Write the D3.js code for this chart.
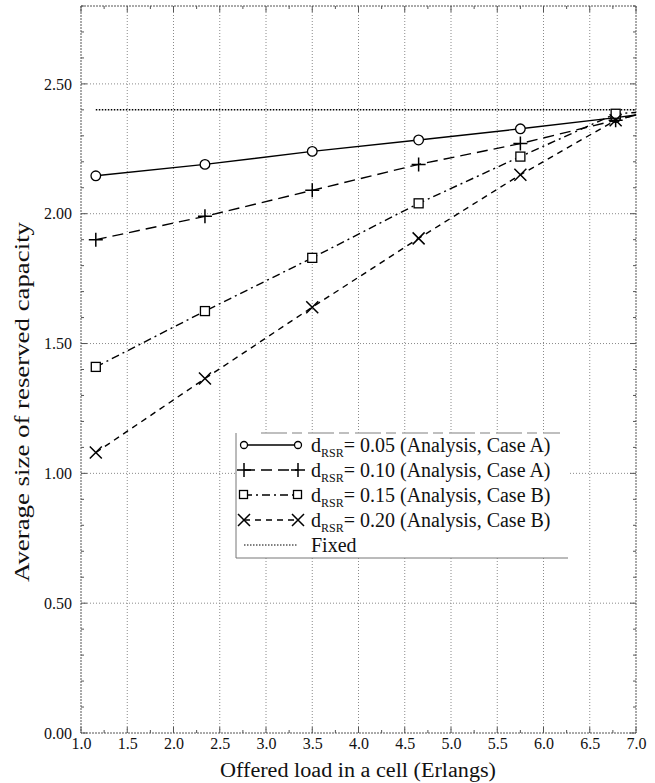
<!DOCTYPE html>
<html>
<head>
<meta charset="utf-8">
<script src="https://cdn.jsdelivr.net/npm/d3@7"></script>
<style>
  body { margin: 0; background: #fff; }
  svg text { font-family: "Liberation Serif", "Times New Roman", serif; fill: #111; }
</style>
</head>
<body>
<div id="chart"></div>
<script>
// offered load (Erlangs) at each computed point; the last one sits on the right border
var loads = [1.16, 2.34, 3.5, 4.65, 5.75, 6.78, 7.0];
var rsr005 = [2.146, 2.19, 2.24, 2.284, 2.327, 2.37, 2.38];
var rsr010 = [1.90, 1.99, 2.09, 2.19, 2.27, 2.36, 2.38];
var rsr015 = [1.41, 1.625, 1.83, 2.04, 2.22, 2.385, 2.39];
var rsr020 = [1.08, 1.365, 1.64, 1.905, 2.15, 2.36, 2.38];
var fixedLoads = [1.16, 7.0];
var fixedValue = [2.40, 2.40];

var xTicks = [1.0, 1.5, 2.0, 2.5, 3.0, 3.5, 4.0, 4.5, 5.0, 5.5, 6.0, 6.5, 7.0];
var yTicks = [0, 0.5, 1.0, 1.5, 2.0, 2.5];
var seriesNames = ["0.05 (Analysis, Case A)", "0.10 (Analysis, Case A)",
                   "0.15 (Analysis, Case B)", "0.20 (Analysis, Case B)"];

(function () {
var width = 655, height = 783;
var pLeft = 81, pRight = 636, pTop = 6, pBottom = 733;

var svg = d3.select("#chart").append("svg")
    .attr("width", width).attr("height", height);

var x = d3.scaleLinear().domain([1, 7]).range([pLeft, pRight]);
var y = d3.scaleLinear().domain([0, 2.8]).range([pBottom, pTop]);

svg.append("clipPath").attr("id", "plot")
  .append("rect").attr("x", pLeft).attr("y", pTop)
  .attr("width", pRight - pLeft).attr("height", pBottom - pTop);

// grid
var grid = svg.append("g").attr("stroke", "#8a8a8a").attr("stroke-width", 1)
    .attr("stroke-dasharray", "1,2");
grid.selectAll(".gx").data(xTicks.slice(1, -1)).enter().append("line")
    .attr("x1", function (d) { return x(d); }).attr("x2", function (d) { return x(d); })
    .attr("y1", pTop).attr("y2", pBottom);
grid.selectAll(".gy").data(yTicks.slice(1)).enter().append("line")
    .attr("x1", pLeft).attr("x2", pRight)
    .attr("y1", function (d) { return y(d); }).attr("y2", function (d) { return y(d); });

// frame
svg.append("rect").attr("x", pLeft).attr("y", pTop)
    .attr("width", pRight - pLeft).attr("height", pBottom - pTop)
    .attr("fill", "none").attr("stroke", "#555").attr("stroke-dasharray", "2,1");

// axes labels (ticks drawn separately, pointing inward on all four sides)
var minorX = d3.range(1, 7.001, 0.25);
var minorY = d3.range(0, 2.801, 0.1);
var bottomAxis = d3.axisBottom(x).tickValues(xTicks).tickSize(0).tickPadding(5)
    .tickFormat(d3.format(".1f"));
var leftAxis = d3.axisLeft(y).tickValues(yTicks).tickSize(0).tickPadding(9)
    .tickFormat(d3.format(".2f"));

var gx = svg.append("g").attr("transform", "translate(0," + pBottom + ")").call(bottomAxis);
var gy = svg.append("g").attr("transform", "translate(" + pLeft + ",0)").call(leftAxis);
[gx, gy].forEach(function (g) {
  g.select(".domain").remove();
  g.selectAll("text").style("font-size", "16px")
    .style("font-family", "'Liberation Serif', serif").attr("fill", "#111");
});

var ticks = svg.append("g").attr("stroke", "#555").attr("stroke-width", 1);
ticks.selectAll(".tb").data(minorX).enter().append("line")
    .attr("x1", function (d) { return x(d); }).attr("x2", function (d) { return x(d); })
    .attr("y1", pBottom).attr("y2", function (d, i) { return pBottom - (i % 2 ? 3 : 6); });
ticks.selectAll(".tt").data(minorX).enter().append("line")
    .attr("x1", function (d) { return x(d); }).attr("x2", function (d) { return x(d); })
    .attr("y1", pTop).attr("y2", function (d, i) { return pTop + (i % 2 ? 3 : 6); });
ticks.selectAll(".tl").data(minorY).enter().append("line")
    .attr("y1", function (d) { return y(d); }).attr("y2", function (d) { return y(d); })
    .attr("x1", pLeft).attr("x2", function (d, i) { return pLeft + (i % 5 ? 3 : 6); });
ticks.selectAll(".tr").data(minorY).enter().append("line")
    .attr("y1", function (d) { return y(d); }).attr("y2", function (d) { return y(d); })
    .attr("x1", pRight).attr("x2", function (d, i) { return pRight - (i % 5 ? 3 : 6); });

// axis titles
svg.append("text").attr("x", 358).attr("y", 777)
    .attr("text-anchor", "middle").style("font-size", "20px")
    .attr("textLength", 276).attr("lengthAdjust", "spacingAndGlyphs")
    .text("Offered load in a cell (Erlangs)");
svg.append("text").attr("transform", "translate(29,402) rotate(-90)")
    .attr("text-anchor", "middle").style("font-size", "20px")
    .attr("textLength", 360).attr("lengthAdjust", "spacingAndGlyphs")
    .text("Average size of reserved capacity");

// series
var series = [
  { name: seriesNames[0], values: rsr005, dash: null, marker: "circle" },
  { name: seriesNames[1], values: rsr010, dash: "11,6", marker: "plus" },
  { name: seriesNames[2], values: rsr015, dash: "8,4,2,4", marker: "square" },
  { name: seriesNames[3], values: rsr020, dash: "6,5", marker: "cross" }
];

function drawMarker(g, type, cx, cy) {
  if (type === "circle") {
    g.append("circle").attr("cx", cx).attr("cy", cy).attr("r", 4.8)
      .attr("fill", "#fff").attr("stroke", "#000").attr("stroke-width", 1.3);
  } else if (type === "square") {
    g.append("rect").attr("x", cx - 4.5).attr("y", cy - 4.5).attr("width", 9).attr("height", 9)
      .attr("fill", "#fff").attr("stroke", "#000").attr("stroke-width", 1.3);
  } else if (type === "plus") {
    g.append("path").attr("d", "M" + (cx - 7) + "," + cy + "H" + (cx + 7) +
        "M" + cx + "," + (cy - 7) + "V" + (cy + 7))
      .attr("stroke", "#000").attr("stroke-width", 1.5);
  } else {
    g.append("path").attr("d", "M" + (cx - 6) + "," + (cy - 6) + "L" + (cx + 6) + "," + (cy + 6) +
        "M" + (cx - 6) + "," + (cy + 6) + "L" + (cx + 6) + "," + (cy - 6))
      .attr("stroke", "#000").attr("stroke-width", 1.5);
  }
}

var plot = svg.append("g").attr("clip-path", "url(#plot)");
var line = d3.line()
    .x(function (d) { return x(d[0]); })
    .y(function (d) { return y(d[1]); });

// fixed reservation
plot.append("path")
    .attr("d", line(d3.zip(fixedLoads, fixedValue)))
    .attr("fill", "none").attr("stroke", "#000").attr("stroke-width", 1.5)
    .attr("stroke-dasharray", "1.5,1.5");

series.forEach(function (s) {
  plot.append("path").attr("d", line(d3.zip(loads, s.values)))
    .attr("fill", "none").attr("stroke", "#000").attr("stroke-width", 1.4)
    .attr("stroke-dasharray", s.dash);
});
series.forEach(function (s) {
  var g = plot.append("g");
  d3.zip(loads, s.values).forEach(function (p) {
    if (p[0] < 7) drawMarker(g, s.marker, x(p[0]), y(p[1]));
  });
});

// legend
var lg = svg.append("g");
var lx = 236, ly = 433, lw = 332, lh = 125;
lg.append("rect").attr("x", lx).attr("y", ly).attr("width", lw).attr("height", lh)
    .attr("fill", "#fff").attr("stroke", "none");
lg.append("path").attr("d", "M" + lx + "," + ly + "V" + (ly + lh) + "H" + (lx + lw))
    .attr("fill", "none").attr("stroke", "#777").attr("stroke-width", 1);
lg.append("line").attr("x1", lx + 25).attr("x2", lx + lw - 8).attr("y1", ly).attr("y2", ly)
    .attr("stroke", "#aaa").attr("stroke-width", 1.5).attr("stroke-dasharray", "26,5,10,6");

series.forEach(function (s, i) {
  var yy = ly + 12 + i * 25;
  lg.append("line").attr("x1", lx + 8).attr("x2", lx + 62).attr("y1", yy).attr("y2", yy)
    .attr("stroke", "#000").attr("stroke-width", 1.3).attr("stroke-dasharray", s.dash);
  var mg = lg.append("g");
  drawMarker(mg, s.marker, lx + 8, yy);
  drawMarker(mg, s.marker, lx + 62, yy);
  mg.selectAll("circle").attr("r", 3.5);
  mg.selectAll("rect").attr("width", 8).attr("height", 8);
  var t = lg.append("text").attr("x", lx + 75).attr("y", yy + 7).style("font-size", "20px");
  t.append("tspan").text("d");
  t.append("tspan").attr("dy", 5).style("font-size", "12px").text("RSR");
  t.append("tspan").attr("dy", -5).text("= " + s.name);
});
var fy = ly + 12 + 4 * 25;
lg.append("line").attr("x1", lx + 8).attr("x2", lx + 62).attr("y1", fy).attr("y2", fy)
    .attr("stroke", "#000").attr("stroke-width", 1).attr("stroke-dasharray", "1.5,1.5");
lg.append("text").attr("x", lx + 75).attr("y", fy + 7).style("font-size", "20px").text("Fixed");
})();
</script>
</body>
</html>
